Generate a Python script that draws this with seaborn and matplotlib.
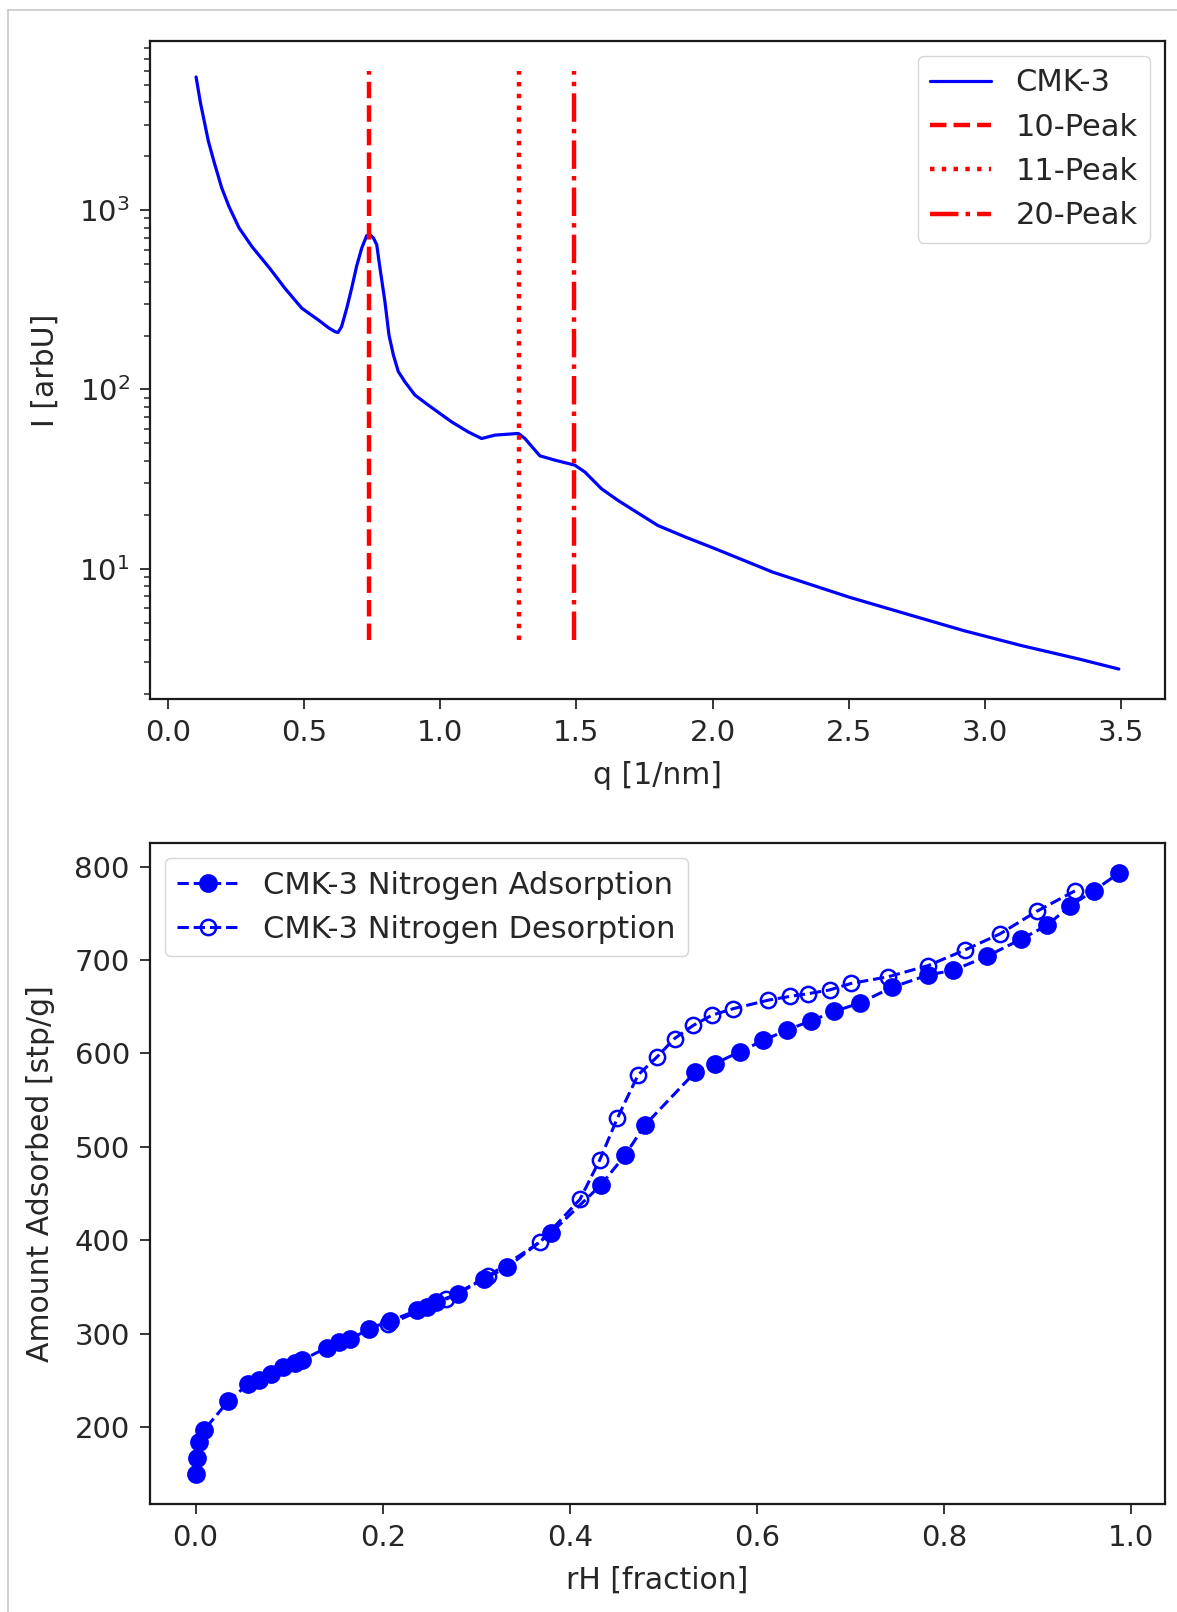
import numpy as np
import pandas as pd
import seaborn as sns
import matplotlib.pyplot as plt
from matplotlib.lines import Line2D

# SAXS curve of CMK-3
q_nm = [0.104, 0.120, 0.149, 0.170, 0.198, 0.225, 0.262, 0.310, 0.374, 0.430,
        0.492, 0.553, 0.590, 0.614, 0.625, 0.638, 0.657, 0.675, 0.693, 0.712,
        0.730, 0.742, 0.755, 0.767, 0.779, 0.797, 0.812, 0.828, 0.846, 0.871,
        0.907, 0.956, 1.042, 1.103, 1.152, 1.201, 1.287, 1.311, 1.340, 1.366,
        1.421, 1.494, 1.531, 1.592, 1.653, 1.720, 1.799, 1.900, 2.010, 2.221,
        2.502, 2.712, 2.923, 3.133, 3.344, 3.491]
intensity = [5546, 3981, 2432, 1862, 1334, 1047, 796, 624, 475, 367,
             284, 244, 221, 210, 208, 224, 284, 367, 486, 615,
             721, 731, 700, 643, 475, 310, 201, 156, 126, 110,
             93.1, 81.8, 65.9, 57.9, 53.2, 55.6, 56.8, 53.2, 47.3, 42.6,
             40.3, 37.8, 34.6, 27.9, 24.0, 20.7, 17.4, 15.0, 12.9, 9.55,
             6.92, 5.58, 4.50, 3.72, 3.13, 2.75]

# expected peak positions of the hexagonal lattice
peak_q = [0.737, 1.289, 1.491]
peak_names = ['10-Peak', '11-Peak', '20-Peak']
peak_styles = ['--', ':', '-.']
peak_span = [4, 6000]

# nitrogen isotherm
ads_rh = [0.0005, 0.002, 0.004, 0.009, 0.035, 0.056, 0.068, 0.081, 0.093, 0.106,
          0.114, 0.140, 0.153, 0.165, 0.185, 0.208, 0.237, 0.247, 0.257, 0.281,
          0.308, 0.333, 0.380, 0.433, 0.459, 0.480, 0.534, 0.555, 0.582, 0.607,
          0.632, 0.658, 0.683, 0.710, 0.745, 0.783, 0.810, 0.846, 0.882, 0.910,
          0.935, 0.960, 0.987]
ads_amount = [150, 167, 184, 197, 228, 246, 251, 257, 264, 269,
              272, 285, 291, 294, 305, 314, 325, 329, 334, 343,
              359, 371, 408, 459, 491, 523, 580, 589, 602, 614,
              625, 635, 645, 654, 671, 684, 689, 704, 722, 737,
              758, 774, 793]
des_rh = [0.940, 0.899, 0.860, 0.823, 0.783, 0.740, 0.701, 0.678, 0.655, 0.635,
          0.612, 0.575, 0.552, 0.532, 0.512, 0.493, 0.473, 0.451, 0.432, 0.411,
          0.368, 0.313, 0.268, 0.206]
des_amount = [774, 752, 728, 711, 694, 682, 675, 668, 664, 661,
              657, 648, 641, 630, 616, 596, 577, 531, 486, 444,
              398, 362, 337, 310]

saxs = pd.DataFrame({'q': q_nm, 'I': intensity})
ads = pd.DataFrame({'rH': ads_rh, 'amount': ads_amount})
des = pd.DataFrame({'rH': des_rh, 'amount': des_amount})

sns.set_style('ticks')
plt.rcParams['font.family'] = ['DejaVu Sans']
plt.rcParams['font.size'] = 21
plt.rcParams['axes.linewidth'] = 1.6
plt.rcParams['axes.edgecolor'] = '.1'
plt.rcParams['xtick.color'] = '.15'
plt.rcParams['ytick.color'] = '.15'

fig = plt.figure(figsize=(11.77, 16.12), dpi=100)
fig.patch.set_facecolor('white')

# ---- top: scattering curve
ax1 = fig.add_axes([0.1274, 0.5664, 0.8624, 0.4082])
sns.lineplot(data=saxs, x='q', y='I', ax=ax1, color='b', lw=2.3,
             label='CMK-3', sort=False, estimator=None)
for pq, name, ls in zip(peak_q, peak_names, peak_styles):
    ax1.plot([pq, pq], peak_span, color='r', ls=ls, lw=3.2, label=name)
ax1.set_yscale('log')
ax1.set_xlabel('q [1/nm]', fontsize=21.5, labelpad=10)
ax1.set_ylabel('I [arbU]', fontsize=21.5, labelpad=14)
ax1.set_xticks(np.arange(0, 3.6, 0.5))
ax1.legend(loc='upper right', fontsize=22, handlelength=2.0)

# ---- bottom: isotherm
ax2 = fig.add_axes([0.1274, 0.067, 0.8624, 0.410])
sns.lineplot(data=ads, x='rH', y='amount', ax=ax2, color='b', lw=2.2, ls='--',
             marker='o', ms=12, markeredgecolor='b', markeredgewidth=1.5,
             label='CMK-3 Nitrogen Adsorption', sort=False, estimator=None)
sns.lineplot(data=des, x='rH', y='amount', ax=ax2, color='b', lw=2.2, ls='--',
             marker='o', ms=11, markerfacecolor='none', markeredgecolor='b',
             markeredgewidth=1.8,
             label='CMK-3 Nitrogen Desorption', sort=False, estimator=None)
ax2.set_xlabel('rH [fraction]', fontsize=21.5, labelpad=10)
ax2.set_ylabel('Amount Adsorbed [stp/g]', fontsize=21.5, labelpad=14)
ax2.set_yticks(np.arange(200, 801, 100))
ax2.legend(loc='upper left', fontsize=22, handlelength=2.0)

for ax in (ax1, ax2):
    ax.tick_params(which='major', length=7, width=1.3, labelsize=21, pad=7.5)
    ax.tick_params(which='minor', length=4.5, width=1.1)
    for s in ax.spines.values():
        s.set_visible(True)

# notebook cell frame
fig.add_artist(Line2D([7.5 / 1177, 1], [1 - 9.5 / 1612, 1 - 9.5 / 1612],
                      transform=fig.transFigure, color='#c8c8c8', lw=1.2))
fig.add_artist(Line2D([7.5 / 1177, 7.5 / 1177], [0, 1 - 9.5 / 1612],
                      transform=fig.transFigure, color='#c8c8c8', lw=1.2))

fig.savefig('out.png', dpi=100)
